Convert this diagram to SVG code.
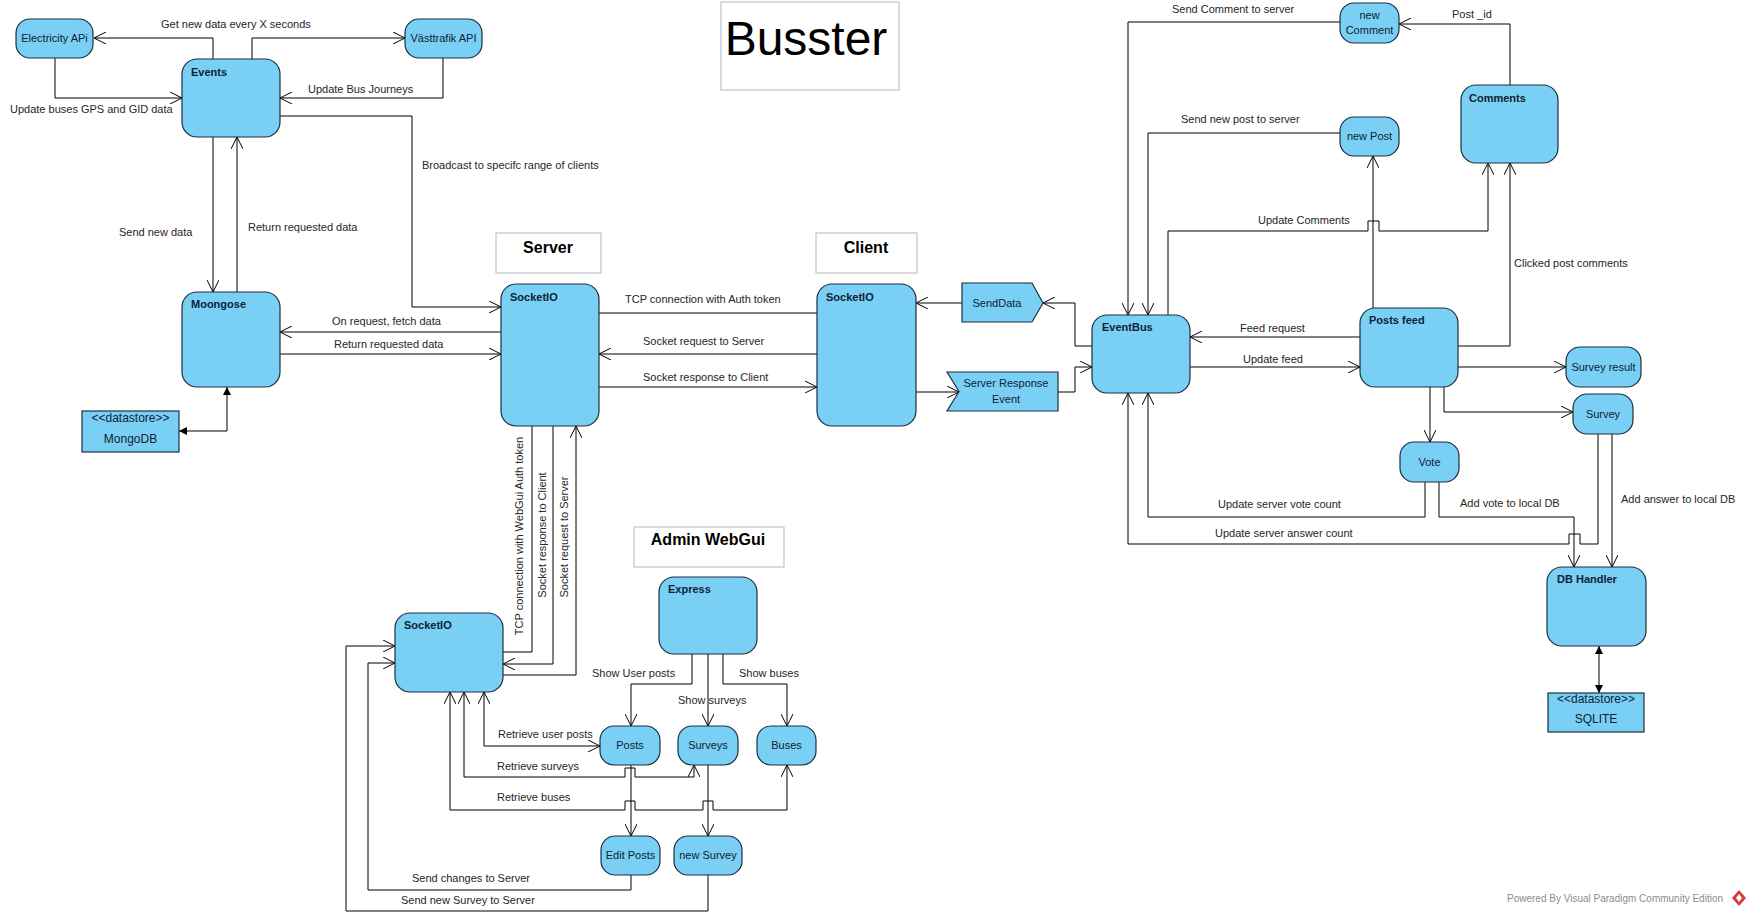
<svg xmlns="http://www.w3.org/2000/svg" width="1751" height="915" viewBox="0 0 1751 915">
<style>
.n{fill:#7acff5;stroke:#1c2f40;stroke-width:1.2}
.ds{fill:#7acff5;stroke:#1c2f40;stroke-width:1.2}
.lb{fill:#fff;stroke:#c4c4c4;stroke-width:1.2}
text{font-family:"Liberation Sans",Arial,sans-serif;font-size:11px}
.nt{fill:#0f2233}
.b{font-weight:bold}
.m{text-anchor:middle}
.h{font-size:16px;font-weight:bold;fill:#000;text-anchor:middle}
.l{fill:#262626}
.c path{fill:none;stroke:#000;stroke-width:1}
.ar{marker-end:url(#a)}
.ar2{marker-start:url(#a);marker-end:url(#a)}
.fl{marker-start:url(#f);marker-end:url(#f)}
</style>
<defs>
<marker id="a" viewBox="0 0 12 12" refX="12" refY="6" markerWidth="12" markerHeight="12" markerUnits="userSpaceOnUse" orient="auto-start-reverse"><path d="M0,0 L12,6 L0,12" fill="none" stroke="#000" stroke-width="1"/></marker>
<marker id="f" viewBox="0 0 8 8" refX="8" refY="4" markerWidth="8" markerHeight="8" markerUnits="userSpaceOnUse" orient="auto-start-reverse"><path d="M0,0 L8,4 L0,8z" fill="#000"/></marker>
</defs>
<rect width="1751" height="915" fill="#fff"/>

<g class="c" id="connectors">
<path class="ar" d="M213,59 V38 H94"/>
<path class="ar" d="M252,59 V38 H405"/>
<path class="ar" d="M55,58 V98 H182"/>
<path class="ar" d="M443,58 V98 H280"/>
<path class="ar" d="M280,116 H412 V307 H501"/>
<path class="ar" d="M213,137 V292"/>
<path class="ar" d="M237,292 V137"/>
<path class="fl" d="M227,387 V431 H179"/>
<path class="ar" d="M501,332 H280"/>
<path class="ar" d="M280,354 H501"/>
<path d="M599,313 H817"/>
<path class="ar" d="M817,354 H599"/>
<path class="ar" d="M599,387 H817"/>
<path class="ar" d="M962,303 H916"/>
<path class="ar" d="M1092,346 H1075 V303 H1043"/>
<path class="ar" d="M916,392 H959"/>
<path class="ar" d="M1058,392 H1075 V367 H1092"/>
<path class="ar" d="M1340,22 H1128 V315"/>
<path class="ar" d="M1510,85 V24 H1399"/>
<path class="ar" d="M1340,133 H1148 V315"/>
<path class="ar" d="M1168,315 V231 H1368 V221 H1379 V231 H1488 V163"/>
<path class="ar" d="M1373,308 V156"/>
<path class="ar" d="M1458,346 H1510 V163"/>
<path class="ar" d="M1360,337 H1190"/>
<path class="ar" d="M1190,367 H1360"/>
<path class="ar" d="M1458,367 H1566"/>
<path class="ar" d="M1444,387 V412 H1573"/>
<path class="ar" d="M1430,387 V442"/>
<path class="ar" d="M1425,482 V517 H1148 V393"/>
<path class="ar" d="M1439,482 V517 H1574 V567"/>
<path class="ar" d="M1598,434 V544 H1580 V534 H1569 V544 H1128 V393"/>
<path class="ar" d="M1612,434 V567"/>
<path class="fl" d="M1599,646 V693"/>
<path d="M532,426 V652 H503"/>
<path class="ar" d="M553,426 V664 H503"/>
<path class="ar" d="M503,675 H576 V426"/>
<path class="ar" d="M692,654 V684 H631 V726"/>
<path class="ar" d="M708,654 V726"/>
<path class="ar" d="M723,654 V684 H787 V726"/>
<path class="ar" d="M631,765 V836"/>
<path class="ar" d="M708,765 V836"/>
<path class="ar2" d="M484,692 V746 H600"/>
<path class="ar2" d="M464,692 V777 H625 V768 H635 V777 H694 V765"/>
<path class="ar2" d="M450,692 V810 H625 V801 H635 V810 H703 V801 H713 V810 H787 V765"/>
<path class="ar" d="M631,875 V890 H368 V663 H395"/>
<path class="ar" d="M708,875 V911 H346 V646 H395"/>
</g>

<g id="connector-labels" class="l">
<text x="161" y="28">Get new data every X seconds</text>
<text x="10" y="113">Update buses GPS and GID data</text>
<text x="308" y="93">Update Bus Journeys</text>
<text x="422" y="169">Broadcast to specifc range of clients</text>
<text x="119" y="236">Send new data</text>
<text x="248" y="231">Return requested data</text>
<text x="332" y="325">On request, fetch data</text>
<text x="334" y="348">Return requested data</text>
<text x="625" y="303">TCP connection with Auth token</text>
<text x="643" y="345">Socket request to Server</text>
<text x="643" y="381">Socket response to Client</text>
<text x="1172" y="13">Send Comment to server</text>
<text x="1452" y="18">Post _id</text>
<text x="1181" y="123">Send new post to server</text>
<text x="1258" y="224">Update Comments</text>
<text x="1514" y="267">Clicked post comments</text>
<text x="1240" y="332">Feed request</text>
<text x="1243" y="363">Update feed</text>
<text x="1218" y="508">Update server vote count</text>
<text x="1460" y="507">Add vote to local DB</text>
<text x="1215" y="537">Update server answer count</text>
<text x="1621" y="503">Add answer to local DB</text>
<text x="592" y="677">Show User posts</text>
<text x="678" y="704">Show surveys</text>
<text x="739" y="677">Show buses</text>
<text x="498" y="738">Retrieve user posts</text>
<text x="497" y="770">Retrieve surveys</text>
<text x="497" y="801">Retrieve buses</text>
<text x="412" y="882">Send changes to Server</text>
<text x="401" y="904">Send new Survey to Server</text>
<text class="m" transform="translate(523,536) rotate(-90)">TCP connection with WebGui Auth token</text>
<text class="m" transform="translate(546,535) rotate(-90)">Socket response to Client</text>
<text class="m" transform="translate(568,537) rotate(-90)">Socket request to Server</text>
</g>

<g id="title"><rect class="lb" x="721" y="2" width="178" height="88"/><text x="806" y="55" style="font-size:48px;text-anchor:middle;fill:#000">Busster</text></g>
<g id="server-label"><rect class="lb" x="496" y="233" width="105" height="40"/><text class="h" x="548" y="253">Server</text></g>
<g id="client-label"><rect class="lb" x="816" y="233" width="101" height="40"/><text class="h" x="866" y="253">Client</text></g>
<g id="admin-label"><rect class="lb" x="634" y="527" width="150" height="40"/><text class="h" x="708" y="545">Admin WebGui</text></g>

<g id="electricity-api"><rect class="n" x="16" y="19" width="77" height="39" rx="14"/><text class="nt m" x="54.5" y="42">Electricity APi</text></g>
<g id="vasttrafik-api"><rect class="n" x="405" y="19" width="77" height="39" rx="14"/><text class="nt m" x="443.5" y="42">Västtrafik API</text></g>
<g id="events"><rect class="n" x="182" y="59" width="98" height="78" rx="15"/><text class="nt b" x="191" y="76">Events</text></g>
<g id="moongose"><rect class="n" x="182" y="292" width="98" height="95" rx="15"/><text class="nt b" x="191" y="308">Moongose</text></g>
<g id="mongodb"><rect class="ds" x="82" y="411" width="97" height="41"/><text class="nt m" x="130.5" y="422" style="font-size:12px">&lt;&lt;datastore&gt;&gt;</text><text class="nt m" x="130.5" y="443" style="font-size:12px">MongoDB</text></g>
<g id="server-socketio"><rect class="n" x="501" y="284" width="98" height="142" rx="15"/><text class="nt b" x="510" y="301">SocketIO</text></g>
<g id="client-socketio"><rect class="n" x="817" y="284" width="99" height="142" rx="15"/><text class="nt b" x="826" y="301">SocketIO</text></g>
<g id="senddata"><polygon class="n" points="962,283 1032,283 1043,303 1032,322 962,322"/><text class="nt m" x="997" y="307">SendData</text></g>
<g id="server-response-event"><polygon class="n" points="947,372 1058,372 1058,411 947,411 959,391.5"/><text class="nt m" x="1006" y="387">Server Response</text><text class="nt m" x="1006" y="403">Event</text></g>
<g id="eventbus"><rect class="n" x="1092" y="315" width="98" height="78" rx="15"/><text class="nt b" x="1102" y="331">EventBus</text></g>
<g id="new-comment"><rect class="n" x="1340" y="3" width="59" height="40" rx="14"/><text class="nt m" x="1369.5" y="19">new</text><text class="nt m" x="1369.5" y="34">Comment</text></g>
<g id="new-post"><rect class="n" x="1340" y="117" width="59" height="39" rx="14"/><text class="nt m" x="1369.5" y="140">new Post</text></g>
<g id="comments"><rect class="n" x="1461" y="85" width="97" height="78" rx="15"/><text class="nt b" x="1469" y="102">Comments</text></g>
<g id="posts-feed"><rect class="n" x="1360" y="308" width="98" height="79" rx="15"/><text class="nt b" x="1369" y="324">Posts feed</text></g>
<g id="survey-result"><rect class="n" x="1566" y="347" width="75" height="40" rx="14"/><text class="nt m" x="1603.5" y="371">Survey result</text></g>
<g id="survey"><rect class="n" x="1573" y="394" width="60" height="40" rx="14"/><text class="nt m" x="1603" y="418">Survey</text></g>
<g id="vote"><rect class="n" x="1400" y="442" width="59" height="40" rx="14"/><text class="nt m" x="1429.5" y="466">Vote</text></g>
<g id="db-handler"><rect class="n" x="1547" y="567" width="99" height="79" rx="15"/><text class="nt b" x="1557" y="583">DB Handler</text></g>
<g id="sqlite"><rect class="ds" x="1548" y="693" width="96" height="39"/><text class="nt m" x="1596" y="703" style="font-size:12px">&lt;&lt;datastore&gt;&gt;</text><text class="nt m" x="1596" y="723" style="font-size:12px">SQLITE</text></g>
<g id="admin-socketio"><rect class="n" x="395" y="613" width="108" height="79" rx="15"/><text class="nt b" x="404" y="629">SocketIO</text></g>
<g id="express"><rect class="n" x="659" y="577" width="98" height="77" rx="15"/><text class="nt b" x="668" y="593">Express</text></g>
<g id="posts"><rect class="n" x="600" y="726" width="60" height="39" rx="14"/><text class="nt m" x="630" y="749">Posts</text></g>
<g id="surveys"><rect class="n" x="678" y="726" width="60" height="39" rx="14"/><text class="nt m" x="708" y="749">Surveys</text></g>
<g id="buses"><rect class="n" x="757" y="726" width="59" height="39" rx="14"/><text class="nt m" x="786.5" y="749">Buses</text></g>
<g id="edit-posts"><rect class="n" x="601" y="836" width="59" height="39" rx="14"/><text class="nt m" x="630.5" y="859">Edit Posts</text></g>
<g id="new-survey"><rect class="n" x="674" y="836" width="68" height="39" rx="14"/><text class="nt m" x="708" y="859">new Survey</text></g>

<g id="watermark"><text x="1507" y="902" style="font-size:10px;fill:#8c8c8c">Powered By Visual Paradigm Community Edition</text><polygon points="1739,890 1746,898 1739,906 1732,898" fill="#d23a3c"/><polygon points="1739,894 1742,898 1739,902 1736,898" fill="#fff"/></g>
</svg>
